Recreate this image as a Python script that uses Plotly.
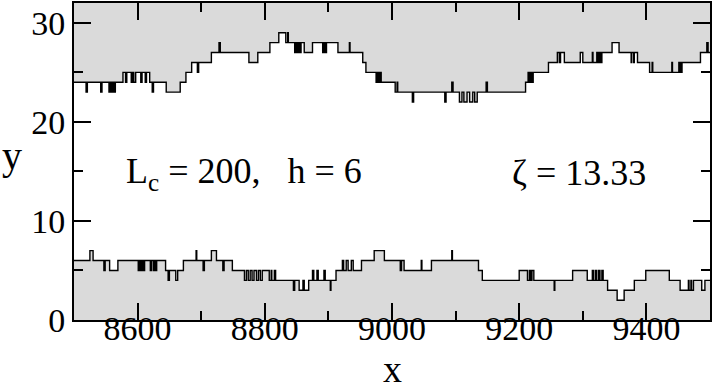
import plotly.graph_objects as go

upper_x = [8500,8519,8521,8542,8544,8555,8557,8559,8561,8563,8565,8577,8581,8583,8590,8592,8594,8597,8605,8607,8612,8614,8619,8623,8625,8645,8667,8676,8685,8694,8696,8716,8728,8730,8775,8789,8808,8822,8833,8836,8837,8847,8849,8851,8853,8855,8857,8862,8875,8891,8893,8895,8897,8915,8933,8934,8954,8959,8975,8977,8979,8981,8983,9005,9008,9009,9032,9034,9083,9085,9094,9096,9106,9110,9113,9118,9122,9127,9130,9134,9148,9150,9210,9214,9216,9218,9220,9222,9246,9260,9263,9265,9271,9296,9300,9315,9316,9322,9324,9326,9328,9330,9346,9357,9376,9377,9380,9381,9386,9405,9409,9410,9440,9441,9451,9452,9454,9455,9456,9485,9495,9497,9500]
upper_y = [24,23,24,23,24,23,24,23,24,23,24,25,24,25,24,25,24,25,24,25,24,25,24,23,24,23,24,25,26,25,26,27,28,27,26,27,28,29,28,29,28,27,28,27,28,27,28,27,28,27,28,27,28,27,28,27,26,25,24,25,24,25,24,23,24,23,22,23,22,23,24,23,22,23,22,23,22,23,22,23,24,23,24,25,24,25,24,25,26,27,26,27,26,27,26,27,26,27,26,27,26,27,28,27,26,27,26,27,26,25,26,25,26,25,26,25,26,25,26,27,28,27,27]

lower_x = [8500,8525,8530,8547,8549,8556,8569,8601,8603,8605,8607,8609,8611,8620,8622,8625,8626,8628,8630,8644,8648,8650,8660,8663,8672,8692,8693,8703,8705,8716,8724,8734,8736,8749,8768,8771,8774,8777,8780,8783,8787,8790,8793,8796,8807,8810,8811,8815,8817,8845,8847,8854,8860,8862,8869,8875,8877,8882,8884,8893,8895,8903,8904,8912,8922,8924,8928,8931,8936,8939,8952,8972,8988,9013,9015,9019,9046,9047,9062,9094,9095,9136,9142,9200,9213,9216,9218,9220,9223,9255,9256,9284,9307,9315,9317,9320,9322,9325,9327,9330,9332,9339,9354,9365,9381,9399,9436,9453,9466,9467,9470,9471,9474,9487,9492,9500]
lower_y = [6,7,6,5,6,5,6,5,6,5,6,5,6,5,6,5,6,5,6,5,4,5,4,5,6,7,6,5,6,7,6,5,6,5,4,5,4,5,4,5,4,5,4,5,4,5,4,5,4,3,4,3,4,3,4,5,4,5,4,5,4,3,4,5,6,5,6,5,6,5,6,7,6,5,6,5,6,5,6,7,6,5,4,5,4,5,4,5,4,3,4,5,4,5,4,5,4,5,4,5,4,3,2,3,4,5,4,3,4,3,4,3,4,3,4,4]

x_tick_vals = [8600, 8800, 9000, 9200, 9400]
y_tick_vals = [0, 10, 20, 30]
y_top = 32

FILL = "#dadada"
FONT = "Liberation Serif"

fig = go.Figure()
fig.add_trace(go.Scatter(x=upper_x, y=[y_top]*len(upper_x), mode="lines",
                         line=dict(width=0, shape="hv"), hoverinfo="skip", showlegend=False))
fig.add_trace(go.Scatter(x=upper_x, y=upper_y, mode="lines", fill="tonexty", fillcolor=FILL,
                         line=dict(color="black", width=1.4, shape="hv"), showlegend=False))
fig.add_trace(go.Scatter(x=lower_x, y=lower_y, mode="lines", fill="tozeroy", fillcolor=FILL,
                         line=dict(color="black", width=1.4, shape="hv"), showlegend=False))

axis_common = dict(showgrid=False, zeroline=False, showline=True, linecolor="black", linewidth=2,
                   mirror="ticks", ticks="inside", ticklen=17, tickwidth=1.5, tickcolor="black",
                   tickfont=dict(family=FONT, size=34, color="black"))
fig.update_xaxes(range=[8500, 9500], tickvals=x_tick_vals, ticklabelstandoff=-23,
                 minor=dict(ticks="inside", ticklen=9, tickwidth=1.5, tickcolor="black", dtick=100, tick0=8500),
                 **axis_common)
fig.update_yaxes(range=[0, y_top], tickvals=y_tick_vals,
                 minor=dict(ticks="inside", ticklen=9, tickwidth=1.5, tickcolor="black", dtick=5, tick0=0),
                 **axis_common)

fig.add_annotation(x=8578, y=14.8, xref="x", yref="y", xanchor="left", yanchor="middle",
                   text="L<sub>c</sub> = 200,\u00a0\u00a0 h = 6", showarrow=False,
                   font=dict(family=FONT, size=36, color="black"))
fig.add_annotation(x=9186, y=14.8, xref="x", yref="y", xanchor="left", yanchor="middle",
                   text="\u03b6 = 13.33", showarrow=False,
                   font=dict(family=FONT, size=36, color="black"))
fig.add_annotation(x=-0.098, y=0.52, xref="paper", yref="paper", xanchor="center", yanchor="middle",
                   text="y", showarrow=False, font=dict(family=FONT, size=40, color="black"))
fig.add_annotation(x=0.5, y=-0.083, xref="paper", yref="paper", xanchor="center", yanchor="top",
                   text="x", showarrow=False, font=dict(family=FONT, size=38, color="black"))

fig.update_layout(width=713, height=384, margin=dict(l=74, r=2, t=1, b=64),
                  plot_bgcolor="white", paper_bgcolor="white")
fig.write_html("out.html")
